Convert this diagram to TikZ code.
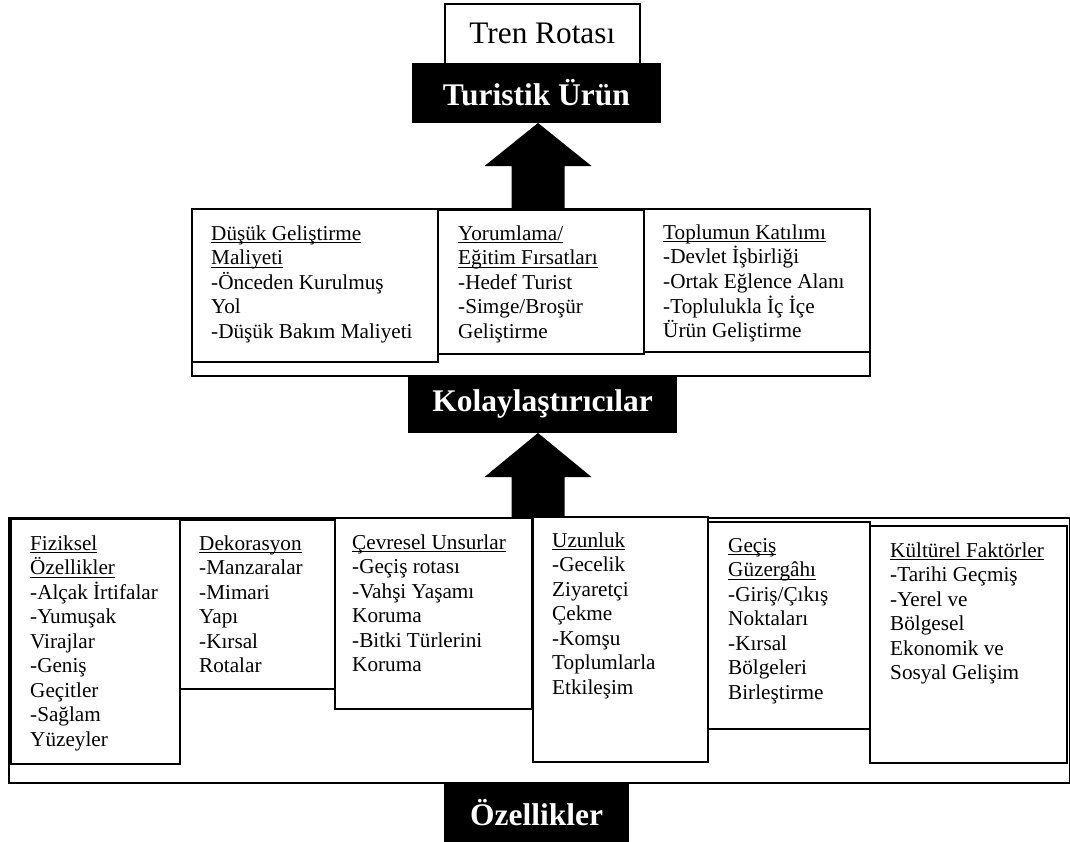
\documentclass[tikz,border=0pt]{standalone}
\usepackage{fontspec}
\setmainfont{Liberation Serif}
\usetikzlibrary{calc}

% stacked lines with a fixed first baseline
\newcommand\linestack[1]{\begin{tabular}[t]{@{}l@{}}#1\end{tabular}}
% word-processor style underline at a fixed depth
\newcommand\ulfix[1]{\setbox0\hbox{#1}\rlap{\rule[-3.2pt]{\wd0}{1.1pt}}\box0}

\begin{document}
\begin{tikzpicture}[x=1pt,y=-1pt,
  boxcell/.style={draw=black, line width=1.7pt, fill=white, inner sep=0pt,
                  anchor=north west},
  blackbar/.style={fill=black, draw=black, line width=1pt, inner sep=0pt,
                   anchor=north west, text=white,
                   font=\fontsize{31.5}{36}\selectfont\bfseries},
  cell/.style={anchor=base west, inner sep=0pt,
               font=\fontsize{21.2}{24.5}\selectfont},
  bigarrow/.style={fill=black}
]
\useasboundingbox (0,0) rectangle (1070,841);

% ---- product level ----
\node[boxcell, minimum width=195pt, minimum height=60pt,
      font=\fontsize{31.3}{36}\selectfont] (tren) at (444,3) {Tren Rotası};
\node[blackbar, minimum width=248pt, minimum height=59pt] (tur) at (412,63) {Turistik Ürün};

% ---- facilitators ----
\node[boxcell, minimum width=678pt, minimum height=167pt] (mid) at (191,208) {};
\node[boxcell, minimum width=246pt, minimum height=153pt] (m1) at (191,208) {};
\node[boxcell, minimum width=206pt, minimum height=144pt] (m2) at (437,209) {};
\node[boxcell, minimum width=226pt, minimum height=143pt] (m3) at (643,208) {};

\node[cell] (m1t) at ($(m1.north west)+(20,32)$) {\linestack{%
  \ulfix{Düşük Geliştirme}\\ \ulfix{Maliyeti}\\ -Önceden Kurulmuş\\ Yol\\
  -Düşük Bakım Maliyeti}};
\node[cell] (m2t) at ($(m2.north west)+(21,31)$) {\linestack{%
  \ulfix{Yorumlama/}\\ \ulfix{Eğitim Fırsatları}\\ -Hedef Turist\\
  -Simge/Broşür\\ Geliştirme}};
\node[cell] (m3t) at ($(m3.north west)+(20,31)$) {\linestack{%
  \ulfix{Toplumun Katılımı}\\ -Devlet İşbirliği\\ -Ortak Eğlence Alanı\\
  -Toplulukla İç İçe\\ Ürün Geliştirme}};

\node[blackbar, minimum width=268pt, minimum height=57pt] (kol) at (408,375) {Kolaylaştırıcılar};

% ---- characteristics ----
\node[boxcell, minimum width=1061pt, minimum height=265pt] (bot) at (8,517) {};
\node[boxcell, minimum width=169pt, minimum height=245pt] (b1) at (10,518) {};
\node[boxcell, minimum width=155pt, minimum height=169pt] (b2) at (179,519) {};
\node[boxcell, minimum width=197pt, minimum height=191pt] (b3) at (334,517) {};
\node[boxcell, minimum width=175pt, minimum height=245pt] (b4) at (532,516) {};
\node[boxcell, minimum width=162pt, minimum height=207pt] (b5) at (707,521) {};
\node[boxcell, minimum width=197pt, minimum height=237pt] (b6) at (869,525) {};

\node[cell] (b1t) at ($(b1.north west)+(20,32)$) {\linestack{%
  \ulfix{Fiziksel}\\ \ulfix{Özellikler}\\ -Alçak İrtifalar\\ -Yumuşak\\
  Virajlar\\ -Geniş\\ Geçitler\\ -Sağlam\\ Yüzeyler}};
\node[cell] (b2t) at ($(b2.north west)+(20,31)$) {\linestack{%
  \ulfix{Dekorasyon}\\ -Manzaralar\\ -Mimari\\ Yapı\\ -Kırsal\\ Rotalar}};
\node[cell] (b3t) at ($(b3.north west)+(18,32)$) {\linestack{%
  \ulfix{Çevresel Unsurlar}\\ -Geçiş rotası\\ -Vahşi Yaşamı\\ Koruma\\
  -Bitki Türlerini\\ Koruma}};
\node[cell] (b4t) at ($(b4.north west)+(20,31)$) {\linestack{%
  \ulfix{Uzunluk}\\ -Gecelik\\ Ziyaretçi\\ Çekme\\ -Komşu\\ Toplumlarla\\
  Etkileşim}};
\node[cell] (b5t) at ($(b5.north west)+(21,31)$) {\linestack{%
  \ulfix{Geçiş}\\ \ulfix{Güzergâhı}\\ -Giriş/Çıkış\\ Noktaları\\ -Kırsal\\
  Bölgeleri\\ Birleştirme}};
\node[cell] (b6t) at ($(b6.north west)+(21,32)$) {\linestack{%
  \ulfix{Kültürel Faktörler}\\ -Tarihi Geçmiş\\ -Yerel ve\\ Bölgesel\\
  Ekonomik ve\\ Sosyal Gelişim}};

\node[blackbar, minimum width=184pt, minimum height=60pt] (ozl) at (444,782) {Özellikler};

% ---- block arrows between the levels ----
\coordinate (axis) at (538,0);
\fill[bigarrow] let \p1=(axis |- tur.south), \p2=(axis |- mid.north) in
  (\x1,\y1) -- (\x1+53.5pt,\y1-43pt) -- (\x1+26.5pt,\y1-43pt) -- (\x1+26.5pt,\y2)
  -- (\x1-26.5pt,\y2) -- (\x1-26.5pt,\y1-43pt) -- (\x1-53.5pt,\y1-43pt) -- cycle;
\fill[bigarrow] let \p1=(axis |- kol.south), \p2=(axis |- bot.north) in
  (\x1,\y1) -- (\x1+53.5pt,\y1-44pt) -- (\x1+26.5pt,\y1-44pt) -- (\x1+26.5pt,\y2)
  -- (\x1-26.5pt,\y2) -- (\x1-26.5pt,\y1-44pt) -- (\x1-53.5pt,\y1-44pt) -- cycle;
\end{tikzpicture}
\end{document}
